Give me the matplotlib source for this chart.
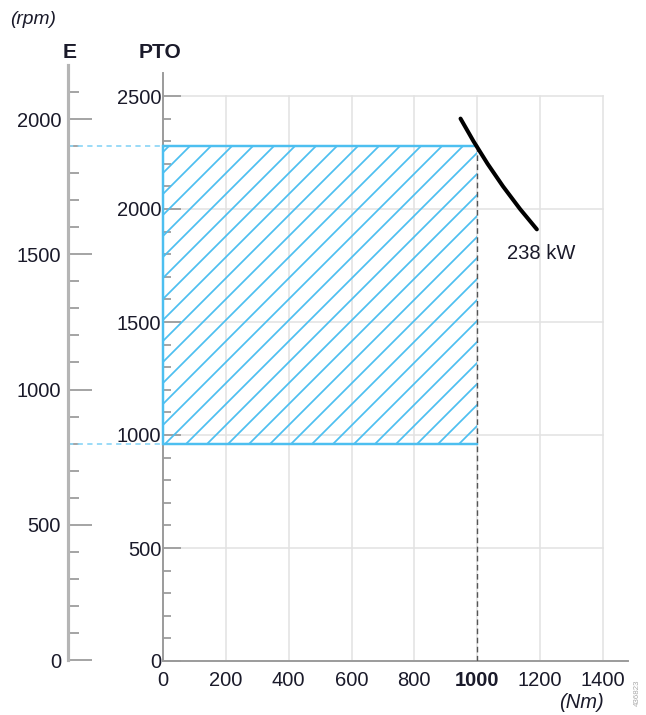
import numpy as np
import matplotlib as mpl
mpl.use('Agg')
import matplotlib.pyplot as plt
from matplotlib.patches import Rectangle
from matplotlib.ticker import FixedLocator

plt.rcParams['font.family'] = ['Liberation Sans', 'DejaVu Sans']
plt.rcParams['hatch.linewidth'] = 1.0

# operating window (engine rpm) and the PTO gear ratio
engine_range = [800, 1900]
pto_ratio = 1.2
max_torque = 1000          # Nm
power_kw = 238
curve_speeds = [2400, 2300, 2200, 2100, 2000, 1910]   # PTO rpm along the power line

torque_ticks = [0, 200, 400, 600, 800, 1000, 1200, 1400]
pto_ticks = [0, 500, 1000, 1500, 2000, 2500]
engine_ticks = [0, 500, 1000, 1500, 2000]

BLUE = '#4dbff0'
GRID = '#e2e2e2'
AXC = '#9a9a9a'
TXT = '#1a1a2a'

DPI = 126
fig = plt.figure(figsize=(646/DPI, 715/DPI), dpi=DPI)
W, H = 646, 715

# main torque / PTO speed axes
ax = fig.add_axes([163/W, 54/H, (628-163)/W, (661-73.4)/H])
ax.set_xlim(0, 1480)
ax.set_ylim(0, 2600)
for s in ['top', 'right']:
    ax.spines[s].set_visible(False)
ax.spines['left'].set_color(AXC)
ax.spines['left'].set_linewidth(1.1)
ax.spines['bottom'].set_color(AXC)
ax.spines['bottom'].set_linewidth(1.1)

# grid only within 0..1400 x 0..2500
for t in torque_ticks[1:]:
    ax.plot([t, t], [0, 2500], color=GRID, lw=0.9, zorder=0)
for p in pto_ticks[1:]:
    ax.plot([0, 1400], [p, p], color=GRID, lw=0.9, zorder=0)

ax.set_xticks(torque_ticks)
ax.set_xticklabels([str(t) for t in torque_ticks], fontsize=11.5, color=TXT)
ax.get_xticklabels()[torque_ticks.index(1000)].set_fontweight('bold')
ax.tick_params(axis='x', length=0, pad=6)

ax.set_yticks(pto_ticks)
ax.set_yticklabels([str(p) for p in pto_ticks], fontsize=11.5, color=TXT)
ax.yaxis.set_minor_locator(FixedLocator([v for v in range(100, 2500, 100)
                                         if v % 500]))
ax.tick_params(axis='y', which='major', direction='in', length=10, width=1.0,
               color=AXC, pad=1)
ax.tick_params(axis='y', which='minor', direction='in', length=4.5, width=1.0,
               color=AXC)

# hatched operating area
pto_lo = engine_range[0] * pto_ratio
pto_hi = engine_range[1] * pto_ratio
ax.add_patch(Rectangle((0, pto_lo), max_torque, pto_hi - pto_lo,
                       facecolor='none', edgecolor=BLUE, lw=0, hatch='//', zorder=2))
ax.plot([0, max_torque], [pto_hi, pto_hi], color=BLUE, lw=1.4, zorder=3)
ax.plot([0, max_torque], [pto_lo, pto_lo], color=BLUE, lw=1.4, zorder=3)
ax.plot([0, 0], [pto_lo, pto_hi], color=BLUE, lw=1.4, zorder=3, clip_on=False)
ax.plot([max_torque, max_torque], [0, pto_hi], color='#555555', lw=0.8,
        ls=(0, (4, 2.5)), zorder=3)

# constant power line
speeds = np.array(curve_speeds, dtype=float)
torque = power_kw * 1000 / (2 * np.pi * speeds / 60)
ax.plot(torque, speeds, color='black', lw=2.3, solid_capstyle='round', zorder=4)
ax.text(1094, 1805, f'{power_kw} kW', fontsize=11.5, color=TXT,
        ha='left', va='center')

# engine speed scale on the left
ax_e = fig.add_axes([68/W, 55/H, (163-68)/W, (660-65)/H])
ax_e.set_xlim(0, 1)
ax_e.set_ylim(0, 2200)
ax_e.patch.set_visible(False)
for s in ['top', 'right', 'bottom']:
    ax_e.spines[s].set_visible(False)
ax_e.spines['left'].set_color('#b5b5b5')
ax_e.spines['left'].set_linewidth(1.8)
ax_e.set_xticks([])
ax_e.set_yticks(engine_ticks)
ax_e.set_yticklabels([str(e) for e in engine_ticks], fontsize=11.5, color=TXT)
ax_e.yaxis.set_minor_locator(FixedLocator([v for v in range(100, 2200, 100)
                                           if v % 500]))
ax_e.tick_params(axis='y', which='major', direction='in', length=13.5, width=1.0,
                 color=AXC, pad=4)
ax_e.tick_params(axis='y', which='minor', direction='in', length=6.5, width=1.0,
                 color=AXC)
for e in engine_range:
    ax_e.plot([0, 1], [e, e], color='#8fd6f7', lw=1.0, ls=(0, (3, 2.5)),
              clip_on=False)

fig.text(10/W, 1 - 20/H, '(rpm)', fontsize=11, style='italic', color=TXT,
         ha='left', va='center')
fig.text(70/W, 1 - 53/H, 'E', fontsize=12, fontweight='bold', color=TXT,
         ha='center', va='center')
fig.text(160/W, 1 - 53/H, 'PTO', fontsize=12, fontweight='bold', color=TXT,
         ha='center', va='center')
fig.text(604/W, 1 - 703/H, '(Nm)', fontsize=11.5, style='italic', color=TXT,
         ha='right', va='center')
fig.text(637/W, 1 - 693/H, '436823', fontsize=4.5, color='#aaaaaa',
         rotation=90, ha='center', va='center')

fig.savefig('out.png', dpi=DPI)
